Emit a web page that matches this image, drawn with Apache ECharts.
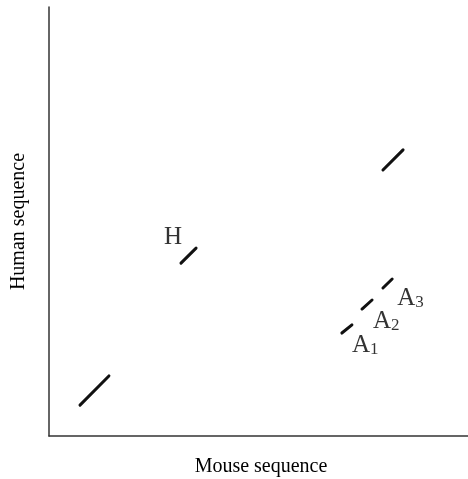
<!DOCTYPE html>
<html>
<head>
<meta charset="utf-8">
<script src="https://cdn.jsdelivr.net/npm/echarts@6/dist/echarts.min.js"></script>
<style>html,body{margin:0;padding:0;background:#fff}#c{width:468px;height:479px}</style>
</head>
<body>
<div id="c"></div>
<script>
// Segments: [x1, y1, x2, y2] in axis units (0..100)
var segments = [
  [7.4, 7.2, 14.3, 14.0],
  [31.5, 40.3, 35.1, 43.8],
  [79.7, 62.0, 84.5, 66.7],
  [69.9, 24.0, 72.3, 25.9],
  [74.7, 29.6, 77.1, 31.7],
  [79.7, 34.5, 81.9, 36.6]
];
// Labels: [x, y, main, subscript]
var labels = [
  [29.6, 46.5, 'H', ''],
  [72.3, 21.3, 'A', '1'],
  [77.3, 26.9, 'A', '2'],
  [83.1, 32.1, 'A', '3']
];
var xName = 'Mouse sequence';
var yName = 'Human sequence';

var font = 'Liberation Serif';
var ink = '#000';
var series = segments.map(function (s) {
  return {
    type: 'line',
    data: [[s[0], s[1]], [s[2], s[3]]],
    symbol: 'none',
    silent: true,
    lineStyle: { color: '#111', width: 3, cap: 'round' }
  };
});
series.push({
  type: 'scatter',
  symbolSize: 0,
  silent: true,
  data: labels.map(function (l) {
    return {
      value: [l[0], l[1]], main: l[2], sub: l[3],
      label: { align: l[3] ? 'left' : 'center', verticalAlign: 'middle' }
    };
  }),
  label: {
    show: true,
    position: [0, 0],
    formatter: function (p) {
      return '{m|' + p.data.main + '}' + (p.data.sub ? '{s|' + p.data.sub + '}' : '');
    },
    rich: {
      m: { fontFamily: font, fontSize: 25, color: ink, lineHeight: 26, verticalAlign: 'bottom' },
      s: { fontFamily: font, fontSize: 17, color: ink, lineHeight: 26, verticalAlign: 'bottom' }
    }
  }
});

var chart = echarts.init(document.getElementById('c'), null, { renderer: 'canvas' });
chart.setOption({
  animation: false,
  grid: { left: 49, right: 0, top: 7, bottom: 43, outerBoundsMode: 'none', containLabel: false },
  xAxis: {
    type: 'value', min: 0, max: 100,
    name: xName, nameLocation: 'middle', nameGap: 21,
    nameTextStyle: { fontFamily: font, fontSize: 20, color: ink, padding: [0, 0, 0, 5] },
    axisLine: { show: true, lineStyle: { color: '#333', width: 1.5 } },
    axisTick: { show: false }, axisLabel: { show: false }, splitLine: { show: false }
  },
  yAxis: {
    type: 'value', min: 0, max: 100,
    name: yName, nameLocation: 'middle', nameGap: 20,
    nameTextStyle: { fontFamily: font, fontSize: 20, color: ink },
    axisLine: { show: true, lineStyle: { color: '#333', width: 1.5 } },
    axisTick: { show: false }, axisLabel: { show: false }, splitLine: { show: false }
  },
  series: series
});
</script>
</body>
</html>
